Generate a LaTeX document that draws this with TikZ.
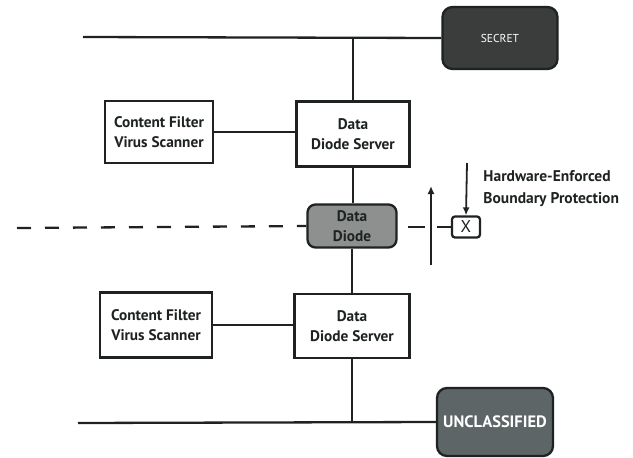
\documentclass[tikz,border=0pt]{standalone}
\usepackage{fontspec}
\setmainfont{PT Sans}
\usetikzlibrary{arrows.meta}
\definecolor{ink}{HTML}{1E2222}
\definecolor{secretfill}{HTML}{3A3D3C}
\definecolor{unclfill}{HTML}{5E6567}
\definecolor{diodefill}{HTML}{8E9090}
\begin{document}
\begin{tikzpicture}[x=1pt,y=-1pt,line width=2.3pt,draw=ink,
  boxtext/.style={font=\bfseries\fontsize{15.3}{19.5}\selectfont,text=ink,align=center},
  plainbox/.style={boxtext,draw=ink,fill=white,inner sep=0pt},
  levelbox/.style={draw=ink,rounded corners=10pt,inner sep=0pt,text=white},
  wire/.style={draw=ink,line width=2.3pt},
  arr/.style={draw=ink,line width=1.8pt,-{Latex[length=8pt,width=7pt]}}]
\useasboundingbox (0,0) rectangle (633,458);
% nodes
\node[plainbox,minimum width=108pt,minimum height=62pt] (cf1) at (159,132) {Content Filter\\Virus Scanner};
\node[plainbox,minimum width=113pt,minimum height=65pt] (dds1) at (353,134) {Data\\Diode Server};
\node[plainbox,fill=diodefill,rounded corners=8pt,minimum width=89pt,minimum height=43pt] (diode) at (352,226) {Data\\Diode};
\node[plainbox,minimum width=115pt,minimum height=64pt] (dds2) at (352,326) {Data\\Diode Server};
\node[plainbox,minimum width=112pt,minimum height=65pt] (cf2) at (156,325) {Content Filter\\Virus Scanner};
\node[levelbox,fill=secretfill,minimum width=115pt,minimum height=62pt,font=\fontsize{11.5}{13}\selectfont] (secret) at (500,38) {SECRET};
\node[levelbox,fill=unclfill,minimum width=116pt,minimum height=68pt,font=\bfseries\fontsize{16.5}{18}\selectfont] (uncl) at (495,422) {UNCLASSIFIED};
\node[draw=ink,fill=white,rounded corners=3pt,minimum width=28pt,minimum height=21pt,inner sep=0pt,font=\fontsize{17}{19}\selectfont,text=ink] (xbox) at (466,227) {X};
\node[boxtext,anchor=west,align=left,font=\bfseries\fontsize{15.5}{22}\selectfont] (hw) at (479,189) {Hardware-Enforced\\Boundary Protection};
% coordinates
\coordinate (topL) at (83,37);
\coordinate (botL) at (78,423);
\coordinate (dashL) at (17,228);
\coordinate (d1a) at (408,227);
\coordinate (d1b) at (425,227);
\coordinate (d2a) at (437,227);
\coordinate (upS) at (431,265);
\coordinate (upE) at (431,186);
\coordinate (dnS) at (467,163);
% bus lines
\draw[wire] (topL) -- (secret.west);
\draw[wire] (dds1.north) -- (dds1.north |- secret.west);
\draw[wire] (botL) -- (uncl.west);
\draw[wire] (dds2.south) -- (dds2.south |- uncl.west);
% links
\draw[wire] (cf1.east) -- (cf1.east -| dds1.west);
\draw[wire] (cf2.east) -- (cf2.east -| dds2.west);
\draw[wire] (dds1.south) -- (dds1.south |- diode.north);
\draw[wire] (diode.south) -- (diode.south |- dds2.north);
% boundary
\draw[wire,dash pattern=on 14pt off 14pt] (dashL) -- (diode.west);
\draw[wire] (d1a) -- (d1b);
\draw[wire] (d2a) -- (xbox.west);
\draw[arr] (upS) -- (upE);
\draw[arr] (dnS) -- (xbox.north);
\end{tikzpicture}
\end{document}
